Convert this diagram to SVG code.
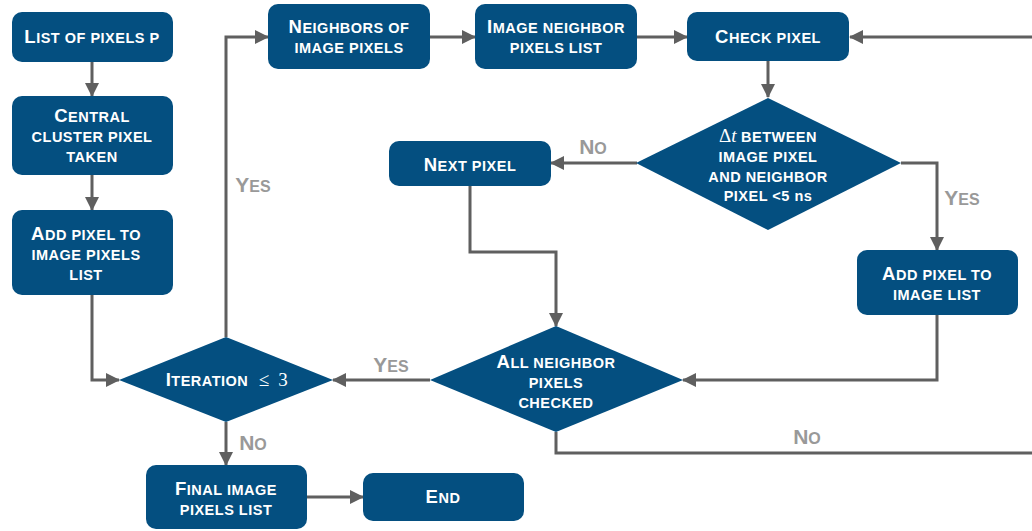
<svg xmlns="http://www.w3.org/2000/svg" width="1032" height="531" viewBox="0 0 1032 531">
  <style>
    .box { fill: #044f80; }
    .t { font-family: "Liberation Sans", Arial, sans-serif; font-weight: bold; font-size: 14.5px; letter-spacing: 0.5px; fill: #ffffff; text-anchor: middle; }
    .b { font-size: 18.5px; }
    .m { font-family: "Liberation Serif", "Times New Roman", serif; font-weight: normal; font-size: 19px; letter-spacing: 0; }
    .lbl { font-family: "Liberation Sans", Arial, sans-serif; font-weight: bold; font-size: 16px; fill: #999999; text-anchor: middle; }
    .lb { font-size: 21px; }
    .c { fill: none; stroke: #5f5f5f; stroke-width: 3; marker-end: url(#arr); }
    .open { marker-end: none; }
  </style>
  <defs>
    <marker id="arr" markerUnits="userSpaceOnUse" markerWidth="14" markerHeight="14" viewBox="0 0 14 14" refX="13" refY="7" orient="auto">
      <path d="M0,0 L14,7 L0,14 z" fill="#5f5f5f"/>
    </marker>
  </defs>

  <!-- connectors and their branch labels -->
  <g id="connectors">
    <path class="c" d="M92,62 V96"/>
    <path class="c" d="M92,175 V210"/>
    <path class="c" d="M92,295 V380 H119"/>
    <path class="c" d="M226,337 V37 H268"/>
    <path class="c" d="M430,37 H475"/>
    <path class="c" d="M637,37 H687"/>
    <path class="c" d="M1032,37 H850"/>
    <path class="c" d="M768,61 V97"/>
    <path class="c" d="M637,163 H551"/>
    <path class="c" d="M901,163 H937 V250"/>
    <path class="c" d="M470,186 V252 H556 V326"/>
    <path class="c" d="M937,315 V380 H683"/>
    <path class="c" d="M430,380 H333"/>
    <path class="c open" d="M556,432 V453 H1032"/>
    <path class="c" d="M226,422 V465"/>
    <path class="c" d="M307,497 H363"/>
    <text class="lbl" x="253" y="192"><tspan class="lb">Y</tspan>ES</text>
    <text class="lbl" x="593" y="154"><tspan class="lb">N</tspan>O</text>
    <text class="lbl" x="962" y="205"><tspan class="lb">Y</tspan>ES</text>
    <text class="lbl" x="391" y="372"><tspan class="lb">Y</tspan>ES</text>
    <text class="lbl" x="253" y="450"><tspan class="lb">N</tspan>O</text>
    <text class="lbl" x="807" y="444"><tspan class="lb">N</tspan>O</text>
  </g>

  <g id="list-pixels">
    <rect class="box" x="12" y="12" width="161" height="50" rx="10"/>
    <text class="t" x="92" y="43"><tspan class="b">L</tspan>IST OF PIXELS P</text>
  </g>
  <g id="central-pixel">
    <rect class="box" x="12" y="96" width="161" height="79" rx="10"/>
    <text class="t" x="92" y="122"><tspan class="b">C</tspan>ENTRAL</text>
    <text class="t" x="92" y="142">CLUSTER PIXEL</text>
    <text class="t" x="92" y="162">TAKEN</text>
  </g>
  <g id="add-image-pixels">
    <rect class="box" x="12" y="210" width="161" height="85" rx="10"/>
    <text class="t" x="86" y="240"><tspan class="b">A</tspan>DD PIXEL TO</text>
    <text class="t" x="86" y="260">IMAGE PIXELS</text>
    <text class="t" x="86" y="280">LIST</text>
  </g>
  <g id="iteration">
    <polygon class="box" points="226,337 333,380 226,422 119,380"/>
    <text class="t" x="207" y="386"><tspan class="b">I</tspan>TERATION</text>
    <text class="t m" x="264" y="386">≤</text>
    <text class="t m" x="283" y="386">3</text>
  </g>
  <g id="neighbors">
    <rect class="box" x="268" y="4" width="162" height="65" rx="10"/>
    <text class="t" x="349" y="33"><tspan class="b">N</tspan>EIGHBORS OF</text>
    <text class="t" x="349" y="53">IMAGE PIXELS</text>
  </g>
  <g id="neighbor-list">
    <rect class="box" x="475" y="4" width="162" height="65" rx="10"/>
    <text class="t" x="556" y="33"><tspan class="b">I</tspan>MAGE NEIGHBOR</text>
    <text class="t" x="556" y="53">PIXELS LIST</text>
  </g>
  <g id="check-pixel">
    <rect class="box" x="687" y="12" width="162" height="49" rx="10"/>
    <text class="t" x="768" y="43"><tspan class="b">C</tspan>HECK PIXEL</text>
  </g>
  <g id="delta-t">
    <polygon class="box" points="768,98 901,163 768,230 636,163"/>
    <text class="t" x="768" y="142"><tspan class="m">Δ<tspan font-style="italic">t</tspan></tspan> BETWEEN</text>
    <text class="t" x="768" y="162">IMAGE PIXEL</text>
    <text class="t" x="768" y="182">AND NEIGHBOR</text>
    <text class="t" x="768" y="201">PIXEL &lt;5 ns</text>
  </g>
  <g id="next-pixel">
    <rect class="box" x="389" y="141" width="162" height="45" rx="10"/>
    <text class="t" x="470" y="171"><tspan class="b">N</tspan>EXT PIXEL</text>
  </g>
  <g id="add-image-list">
    <rect class="box" x="857" y="250" width="161" height="65" rx="10"/>
    <text class="t" x="937" y="280"><tspan class="b">A</tspan>DD PIXEL TO</text>
    <text class="t" x="937" y="300">IMAGE LIST</text>
  </g>
  <g id="all-checked">
    <polygon class="box" points="556,326 683,380 556,432 430,380"/>
    <text class="t" x="556" y="368"><tspan class="b">A</tspan>LL NEIGHBOR</text>
    <text class="t" x="556" y="388">PIXELS</text>
    <text class="t" x="556" y="408">CHECKED</text>
  </g>
  <g id="final-list">
    <rect class="box" x="146" y="465" width="161" height="64" rx="10"/>
    <text class="t" x="226" y="495"><tspan class="b">F</tspan>INAL IMAGE</text>
    <text class="t" x="226" y="515">PIXELS LIST</text>
  </g>
  <g id="end">
    <rect class="box" x="363" y="473" width="161" height="48" rx="10"/>
    <text class="t" x="443" y="503"><tspan class="b">E</tspan>ND</text>
  </g>
</svg>
